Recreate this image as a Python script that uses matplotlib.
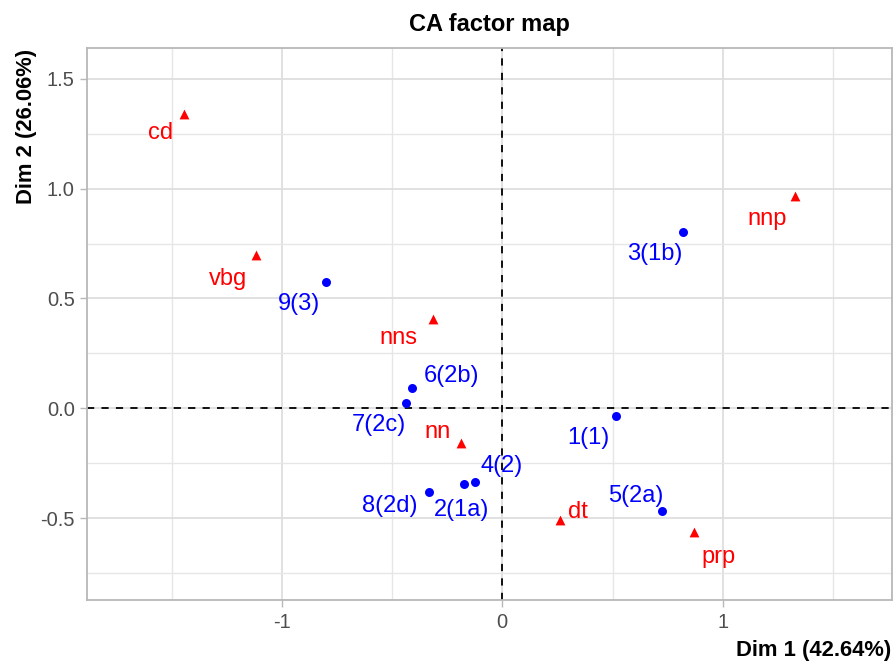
import matplotlib
matplotlib.use("Agg")
import matplotlib.pyplot as plt
from matplotlib.ticker import MultipleLocator

plt.rcParams["font.family"] = ["Liberation Sans", "DejaVu Sans"]

# ------------------------- Data -------------------------
row_names = ["1(1)", "2(1a)", "3(1b)", "4(2)", "5(2a)", "6(2b)", "7(2c)", "8(2d)", "9(3)"]
row_dim1 = [0.516, -0.172, 0.818, -0.124, 0.726, -0.411, -0.435, -0.332, -0.799]
row_dim2 = [-0.034, -0.343, 0.804, -0.337, -0.469, 0.094, 0.024, -0.383, 0.577]

col_names = ["cd", "vbg", "nns", "nnp", "nn", "dt", "prp"]
col_dim1 = [-1.444, -1.117, -0.313, 1.327, -0.189, 0.262, 0.868]
col_dim2 = [1.340, 0.700, 0.405, 0.965, -0.159, -0.510, -0.563]

# label offsets in pixels (dx right, dy up)
row_offsets = {
    "1(1)": (-28, -22), "2(1a)": (-3, -26), "3(1b)": (-28, -22),
    "4(2)": (27, 16), "5(2a)": (-27, 15), "6(2b)": (40, 12),
    "7(2c)": (-28, -22), "8(2d)": (-39, -14), "9(3)": (-27, -22),
}
col_offsets = {
    "cd": (-23, -19), "vbg": (-28, -24), "nns": (-35, -19), "nnp": (-28, -23),
    "nn": (-23, 11), "dt": (18, 8), "prp": (25, -25),
}

# ------------------------- Figure -------------------------
fig = plt.figure(figsize=(8.94, 6.65), dpi=100)
ax = fig.add_axes([0.0977, 0.0977, 0.8997, 0.8297])

ax.set_xlim(-1.882, 1.766)
ax.set_ylim(-0.873, 1.639)

ax.xaxis.set_major_locator(MultipleLocator(1))
ax.xaxis.set_minor_locator(MultipleLocator(0.5))
ax.yaxis.set_major_locator(MultipleLocator(0.5))
ax.yaxis.set_minor_locator(MultipleLocator(0.25))

ax.grid(True, which="major", color="#DEDEDE", lw=1.3)
ax.grid(True, which="minor", color="#E6E6E6", lw=1.0)
ax.set_axisbelow(True)

for s in ax.spines.values():
    s.set_color("#B8B8B8")
    s.set_linewidth(1.3)

ax.tick_params(which="major", length=5, width=1, color="#B8B8B8",
               labelsize=14.5, labelcolor="#4D4D4D", pad=4)
ax.tick_params(which="minor", length=0)
ax.set_xticks([-1, 0, 1])
ax.set_xticklabels(["-1", "0", "1"])
ax.set_yticks([-0.5, 0.0, 0.5, 1.0, 1.5])
ax.set_yticklabels(["-0.5", "0.0", "0.5", "1.0", "1.5"])

ax.axhline(0, color="black", lw=1.3, ls=(0, (4, 4)), zorder=2)
ax.axvline(0, color="black", lw=1.3, ls=(0, (4, 4)), zorder=2)

ax.scatter(row_dim1, row_dim2, s=42, color="#0000FF", marker="o", zorder=3, linewidths=0)
ax.scatter(col_dim1, col_dim2, s=50, color="#FF0000", marker="^", zorder=3, linewidths=0)

for name, x, y in zip(row_names, row_dim1, row_dim2):
    ax.annotate(name, (x, y), xytext=row_offsets[name], textcoords="offset pixels",
                ha="center", va="center", color="#0000FF", fontsize=17)
for name, x, y in zip(col_names, col_dim1, col_dim2):
    ax.annotate(name, (x, y), xytext=col_offsets[name], textcoords="offset pixels",
                ha="center", va="center", color="#FF0000", fontsize=17)

fig.text(0.5475, 0.9534, "CA factor map", ha="center", va="baseline",
         fontsize=17, fontweight="bold")
fig.text(0.997, 0.0135, "Dim 1 (42.64%)", ha="right", va="baseline",
         fontsize=15.8, fontweight="bold")
fig.text(0.0175, 0.927, "Dim 2 (26.06%)", ha="left", va="top", rotation=90,
         fontsize=15.8, fontweight="bold")

fig.savefig("out.png", dpi=100)
